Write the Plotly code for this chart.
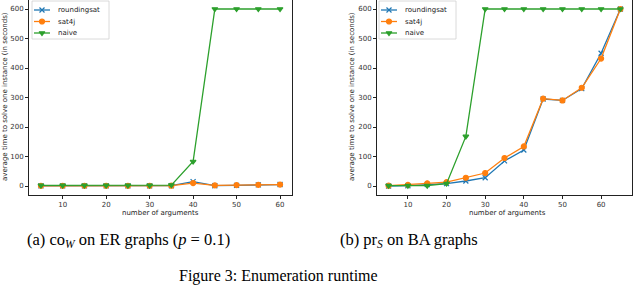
import plotly.graph_objects as go

# Left panel: co_W on ER graphs
x_er = [5, 10, 15, 20, 25, 30, 35, 40, 45, 50, 55, 60]
er_roundingsat = [0.5, 0.5, 0.5, 0.5, 0.5, 0.5, 1, 15, 1, 2, 4, 5]
er_sat4j = [0.5, 0.5, 0.5, 0.5, 0.5, 0.5, 1, 10, 2, 3, 4, 5]
er_naive = [2, 2, 2, 2, 2, 2, 3, 83, 600, 600, 600, 600]

# Right panel: pr_S on BA graphs
x_ba = [5, 10, 15, 20, 25, 30, 35, 40, 45, 50, 55, 60, 65]
ba_roundingsat = [0, 1, 5, 8, 17, 28, 85, 122, 295, 290, 330, 450, 600]
ba_sat4j = [1, 4, 9, 13, 28, 44, 95, 134, 296, 290, 333, 432, 600]
ba_naive = [1, 1, 1, 8, 168, 600, 600, 600, 600, 600, 600, 600, 600]

series_names = ["roundingsat", "sat4j", "naive"]
colors = ["#1f77b4", "#ff7f0e", "#2ca02c"]
symbols = ["x-thin", "circle", "triangle-down"]

y_ticks = [0, 100, 200, 300, 400, 500, 600]
x_ticks = [10, 20, 30, 40, 50, 60]

W, H = 640, 288
AX_TOP, AX_BOT = 0, 195
PANEL_X = [(29, 292), (377, 632)]


def marker_style(c, s):
    return dict(color=c, symbol=s, size=5, line=dict(color=c, width=1.2))


fig = go.Figure()

panels = [
    (x_er, [er_roundingsat, er_sat4j, er_naive], "x", "y"),
    (x_ba, [ba_roundingsat, ba_sat4j, ba_naive], "x2", "y2"),
]
for xs, ys_list, xa, ya in panels:
    for name, ys, c, s in zip(series_names, ys_list, colors, symbols):
        fig.add_trace(go.Scatter(
            x=xs, y=ys, name=name, mode="lines+markers",
            line=dict(color=c, width=1.3), marker=marker_style(c, s),
            xaxis=xa, yaxis=ya, showlegend=False,
        ))

tickfont = dict(family="DejaVu Sans", size=7, color="#333")
axis_common = dict(showline=True, linecolor="#222", linewidth=0.8, mirror=True,
                   ticks="outside", ticklen=3, tickwidth=0.8, tickcolor="#222",
                   showgrid=False, zeroline=False, tickfont=tickfont)
ydom = [(H - AX_BOT) / H, (H - AX_TOP) / H]

fig.update_layout(
    width=W, height=H,
    margin=dict(l=0, r=0, t=0, b=0),
    paper_bgcolor="white", plot_bgcolor="white",
    showlegend=False,
    xaxis=dict(domain=[PANEL_X[0][0] / W, PANEL_X[0][1] / W], range=[2.25, 62.75],
               tickvals=x_ticks, anchor="y", **axis_common),
    yaxis=dict(domain=ydom, range=[-30.5, 630.5], tickvals=y_ticks,
               anchor="x", **axis_common),
    xaxis2=dict(domain=[PANEL_X[1][0] / W, PANEL_X[1][1] / W], range=[2, 68],
                tickvals=x_ticks, anchor="y2", **axis_common),
    yaxis2=dict(domain=ydom, range=[-30.5, 630.5], tickvals=y_ticks,
                anchor="x2", **axis_common),
    # pixel-space overlay axes used only to place the legends
    xaxis3=dict(overlaying="x", range=list(PANEL_X[0]), visible=False, anchor="y3"),
    yaxis3=dict(overlaying="y", range=[AX_BOT, AX_TOP], visible=False, anchor="x3"),
    xaxis4=dict(overlaying="x2", range=list(PANEL_X[1]), visible=False, anchor="y4"),
    yaxis4=dict(overlaying="y2", range=[AX_BOT, AX_TOP], visible=False, anchor="x4"),
)

annotations = []
shapes = []
legend_font = dict(family="DejaVu Sans", size=7, color="#222")
LEG_W, LEG_H = 77, 38
ITEM_Y = [10, 21.5, 33]
for (bx, by), xa, ya in [((32, 1), "x3", "y3"), ((379, 1), "x4", "y4")]:
    shapes.append(dict(type="rect", xref=xa, yref=ya, layer="below",
                       x0=bx, x1=bx + LEG_W, y0=by, y1=by + LEG_H,
                       line=dict(color="#d0d0d0", width=0.8), fillcolor="white"))
    for yy, name, c, s in zip(ITEM_Y, series_names, colors, symbols):
        shapes.append(dict(type="line", xref=xa, yref=ya, layer="above",
                           x0=bx + 2, x1=bx + 18, y0=yy, y1=yy,
                           line=dict(color=c, width=1.3)))
        fig.add_trace(go.Scatter(x=[bx + 10], y=[yy], mode="markers",
                                 marker=marker_style(c, s), xaxis=xa, yaxis=ya,
                                 showlegend=False, hoverinfo="skip"))
        annotations.append(dict(text=name, x=bx + 24, y=yy, xref=xa, yref=ya,
                                showarrow=False, font=legend_font,
                                xanchor="left", yanchor="middle"))

label_font = dict(family="DejaVu Sans", size=7, color="#222")
for xc in [160, 507]:
    annotations.append(dict(text="number of arguments", x=xc / W, y=(H - 213) / H,
                            xref="paper", yref="paper", showarrow=False,
                            font=label_font, xanchor="center", yanchor="middle"))
for yx in [5, 352]:
    annotations.append(dict(text="average time to solve one instance (in seconds)",
                            x=yx / W, y=(H - 97) / H, xref="paper", yref="paper",
                            showarrow=False, textangle=-90, font=label_font,
                            xanchor="center", yanchor="middle"))

serif = "Liberation Serif"
annotations.append(dict(text="(a) co<sub><i>W</i></sub> on ER graphs (<i>p</i> = 0.1)",
                        x=128 / W, y=(H - 240) / H, xref="paper", yref="paper",
                        showarrow=False, font=dict(family=serif, size=16.5, color="black"),
                        xanchor="center", yanchor="middle"))
annotations.append(dict(text="(b) pr<sub><i>S</i></sub> on BA graphs",
                        x=409 / W, y=(H - 240) / H, xref="paper", yref="paper",
                        showarrow=False, font=dict(family=serif, size=16.5, color="black"),
                        xanchor="center", yanchor="middle"))
annotations.append(dict(text="Figure 3: Enumeration runtime",
                        x=278 / W, y=(H - 276) / H, xref="paper", yref="paper",
                        showarrow=False, font=dict(family=serif, size=16, color="black"),
                        xanchor="center", yanchor="middle"))

fig.update_layout(annotations=annotations, shapes=shapes)
fig.write_html("out.html", config={"displayModeBar": False},
               post_script="document.body.style.margin='0';")
